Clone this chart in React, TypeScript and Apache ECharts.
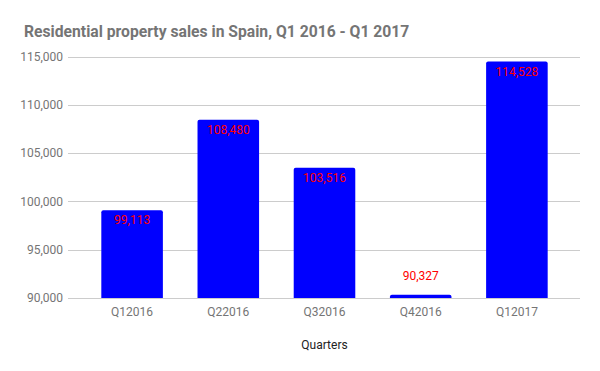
import React, { useEffect, useRef } from "react";
import * as echarts from "echarts";

const categories = ["Q12016", "Q22016", "Q32016", "Q42016", "Q12017"];
const sales = [99113, 108480, 103516, 90327, 114528];
const yMin = 90000;
const yMax = 115000;
const yInterval = 5000;

export default function App() {
  const ref = useRef<HTMLDivElement>(null);
  useEffect(() => {
    if (!ref.current) return;
    const chart = echarts.init(ref.current, null, { renderer: "svg" });
    const fmt = (v: number) => v.toLocaleString("en-US");
    chart.setOption({
      animation: false,
      backgroundColor: "#ffffff",
      title: {
        text: "Residential property sales in Spain, Q1 2016 - Q1 2017",
        left: 19,
        top: 18,
        textStyle: {
          fontFamily: "Roboto",
          fontSize: 15.7,
          fontWeight: "bold",
          color: "#757575",
        },
      },
      grid: [
        { left: 68, right: 20, top: 57, bottom: 73, containLabel: false },
        { left: 84, right: 35, top: 57, bottom: 73, containLabel: false },
      ],
      xAxis: [
        {
          type: "category",
          gridIndex: 0,
          data: categories,
          show: false,
        },
        {
          type: "category",
          gridIndex: 1,
          data: categories,
          name: "Quarters",
          nameLocation: "middle",
          nameGap: 41,
          nameTextStyle: { fontFamily: "Roboto", fontSize: 12, color: "#222222" },
          axisLine: { show: false },
          axisTick: { show: false },
          axisLabel: { fontFamily: "Roboto", fontSize: 12, color: "#757575", margin: 8 },
        },
      ],
      yAxis: [
        {
          type: "value",
          gridIndex: 0,
          min: yMin,
          max: yMax,
          interval: yInterval,
          axisLine: { show: false },
          axisTick: { show: false },
          axisLabel: {
            fontFamily: "Roboto",
            fontSize: 12,
            color: "#757575",
            margin: 5,
            formatter: (v: number) => fmt(v),
          },
          splitLine: { lineStyle: { color: "#cccccc" } },
        },
        {
          type: "value",
          gridIndex: 1,
          min: yMin,
          max: yMax,
          interval: yInterval,
          show: false,
          splitLine: { show: false },
        },
      ],
      series: [
        {
          type: "bar",
          xAxisIndex: 1,
          yAxisIndex: 1,
          data: sales.map((v) =>
            v - yMin < 2000
              ? { value: v, label: { position: "top", distance: 13 } }
              : v
          ),
          barCategoryGap: "36%",
          itemStyle: { color: "#0000ff", borderRadius: [2, 2, 0, 0] },
          label: {
            show: true,
            position: "insideTop",
            distance: 4,
            color: "#ff0000",
            fontFamily: "Roboto",
            fontSize: 12,
            formatter: (p: any) => fmt(p.value),
          },
        },
      ],
    });
    return () => chart.dispose();
  }, []);
  return <div ref={ref} style={{ width: 600, height: 371, position: "absolute", left: 0, top: 0 }} />;
}
